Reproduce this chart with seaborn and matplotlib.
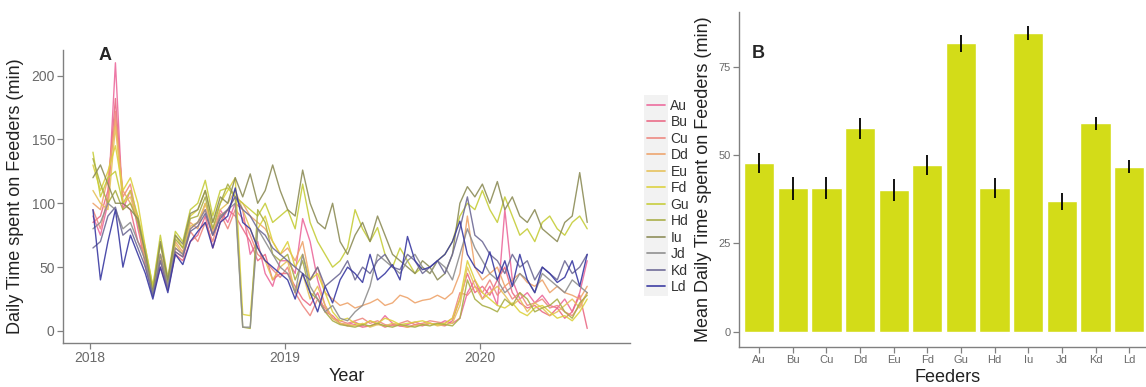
import numpy as np
import pandas as pd
import matplotlib
matplotlib.use("Agg")
import matplotlib.pyplot as plt
from matplotlib.patches import Rectangle
from matplotlib.lines import Line2D
import seaborn as sns

# ---------------- data ----------------
feeders = ["Au", "Bu", "Cu", "Dd", "Eu", "Fd", "Gu", "Hd", "Iu", "Jd", "Kd", "Ld"]
start_date = "2018-01-07"   # samples every 14 days

Au = [90, 75, 100, 210, 95, 110, 80, 55, 30, 60, 35, 65, 60, 80, 85, 95, 75, 95, 85, 100, 95, 60, 70, 45, 35, 55,
      55, 45, 88, 70, 40, 20, 10, 6, 5, 7, 4, 8, 5, 12, 6, 4, 5, 7, 5, 6, 5, 8, 6, 10, 30, 40,
      25, 35, 20, 95, 40, 25, 30, 22, 28, 20, 18, 25, 15, 30, 55]
Bu = [85, 90, 110, 182, 100, 95, 70, 60, 28, 50, 32, 60, 55, 70, 75, 90, 65, 85, 95, 90, 80, 70, 55, 60, 40, 45,
      45, 35, 25, 20, 30, 15, 12, 6, 4, 5, 3, 4, 6, 3, 5, 4, 3, 5, 4, 6, 5, 4, 8, 25, 45, 30,
      35, 28, 40, 50, 30, 22, 18, 20, 15, 12, 18, 10, 15, 28, 2]
Cu = [95, 80, 105, 172, 105, 115, 85, 50, 30, 55, 35, 62, 58, 78, 70, 85, 70, 92, 80, 95, 88, 75, 60, 55, 48, 42,
      50, 30, 20, 12, 25, 18, 10, 8, 6, 8, 10, 6, 8, 5, 4, 6, 8, 5, 6, 8, 7, 6, 10, 30, 28, 35,
      30, 40, 28, 35, 25, 30, 20, 22, 25, 18, 20, 15, 12, 20, 30]
Dd = [100, 95, 120, 165, 110, 100, 90, 55, 35, 60, 40, 70, 62, 85, 80, 100, 78, 90, 95, 105, 100, 90, 85, 80, 70, 60,
      65, 55, 70, 40, 50, 30, 25, 20, 22, 18, 20, 22, 25, 20, 22, 28, 26, 22, 24, 25, 28, 25, 30, 45, 90, 50,
      40, 45, 50, 35, 40, 45, 38, 35, 40, 30, 35, 30, 28, 25, 35]
Eu = [110, 100, 95, 160, 100, 105, 85, 60, 32, 58, 38, 68, 60, 82, 85, 100, 80, 95, 100, 110, 95, 80, 65, 55, 40, 50,
      55, 30, 45, 25, 35, 20, 10, 6, 5, 4, 6, 3, 5, 4, 6, 5, 3, 4, 5, 6, 4, 5, 6, 20, 50, 35,
      25, 30, 35, 28, 20, 25, 15, 22, 18, 12, 15, 20, 25, 18, 30]
Fd = [130, 110, 125, 145, 110, 120, 100, 65, 35, 70, 40, 75, 65, 90, 95, 110, 85, 100, 110, 120, 13, 12, 80, 90, 70, 60,
      70, 50, 60, 40, 45, 30, 15, 8, 10, 6, 5, 8, 6, 10, 8, 5, 6, 7, 8, 6, 5, 6, 10, 25, 55, 40,
      30, 25, 20, 18, 22, 15, 12, 18, 20, 15, 10, 12, 8, 15, 25]
Gu = [140, 105, 120, 125, 100, 110, 90, 65, 35, 75, 42, 78, 70, 95, 100, 118, 90, 110, 112, 105, 100, 95, 90, 100, 85, 90,
      95, 80, 115, 85, 70, 60, 50, 55, 65, 95, 80, 70, 81, 60, 50, 65, 55, 45, 50, 45, 55, 60, 70, 90, 100, 95,
      110, 95, 85, 105, 90, 75, 80, 70, 85, 90, 80, 75, 85, 90, 80]
Hd = [135, 115, 100, 110, 95, 100, 85, 62, 30, 68, 38, 72, 65, 88, 90, 105, 80, 100, 115, 105, 3, 2, 95, 85, 60, 55,
      60, 40, 55, 30, 25, 15, 8, 5, 4, 3, 5, 4, 6, 4, 3, 5, 4, 3, 5, 4, 6, 5, 4, 10, 40, 25,
      20, 18, 15, 25, 20, 30, 25, 15, 18, 20, 25, 15, 10, 22, 28]
Iu = [120, 130, 115, 100, 100, 95, 88, 60, 30, 70, 40, 75, 68, 92, 95, 110, 85, 105, 100, 120, 105, 123, 100, 110, 130, 110,
      95, 90, 126, 100, 85, 80, 100, 70, 60, 75, 85, 70, 90, 75, 60, 55, 50, 45, 55, 50, 40, 45, 60, 100, 113, 105,
      115, 100, 117, 95, 105, 90, 85, 95, 80, 75, 70, 85, 90, 124, 85]
Jd = [80, 85, 100, 95, 80, 85, 70, 55, 28, 60, 35, 65, 60, 80, 85, 95, 75, 90, 95, 100, 3, 3, 80, 70, 60, 50,
      45, 30, 60, 35, 25, 15, 20, 10, 8, 15, 20, 35, 60, 55, 50, 45, 55, 60, 50, 45, 55, 50, 40, 60, 80, 65,
      55, 45, 40, 30, 35, 45, 40, 30, 45, 40, 35, 30, 40, 35, 30]
Kd = [65, 70, 90, 97, 75, 80, 65, 50, 27, 55, 32, 62, 58, 78, 82, 92, 75, 88, 95, 105, 95, 90, 80, 75, 65, 60,
      55, 50, 45, 40, 50, 35, 40, 45, 55, 40, 50, 45, 55, 60, 50, 48, 60, 55, 45, 50, 55, 45, 60, 80, 105, 75,
      70, 60, 55, 45, 60, 50, 55, 40, 50, 45, 40, 55, 45, 50, 60]
Ld = [95, 40, 70, 95, 50, 75, 60, 45, 25, 50, 30, 60, 52, 70, 78, 85, 65, 85, 90, 112, 85, 80, 65, 55, 50, 45,
      40, 25, 45, 30, 15, 35, 22, 40, 50, 45, 38, 60, 40, 45, 52, 40, 74, 55, 48, 50, 55, 60, 70, 86, 60, 50,
      45, 62, 40, 55, 35, 60, 40, 30, 50, 45, 38, 42, 55, 35, 60]

mean_minutes = [47.8, 40.6, 40.8, 57.6, 40.1, 47.2, 81.6, 40.8, 84.5, 37.0, 59.0, 46.7]
se_minutes = [2.9, 3.3, 3.1, 2.9, 3.1, 2.9, 2.5, 2.8, 2.0, 2.4, 1.9, 1.9]

year_ticks = ["2018-01-01", "2019-01-01", "2020-01-01"]
year_labels = ["2018", "2019", "2020"]

series = dict(zip(feeders, [Au, Bu, Cu, Dd, Eu, Fd, Gu, Hd, Iu, Jd, Kd, Ld]))
frames = []
for name, vals in series.items():
    dates = pd.date_range(start_date, periods=len(vals), freq="14D")
    frames.append(pd.DataFrame({"date": dates, "minutes": vals, "feeder": name}))
df = pd.concat(frames, ignore_index=True)

line_colors = ["#ec6a9c", "#ea6a86", "#ee8880", "#eea46c", "#e6c25a", "#dcd23e",
               "#c6cd3a", "#a9ae46", "#8d8d58", "#8e8e8e", "#6e6a96", "#3a3aa2"]
bar_color = "#d3dc18"

# ---------------- style ----------------
sns.set_theme(style="white")
plt.rcParams["font.family"] = ["Liberation Sans", "DejaVu Sans"]

W, H = 1146, 387
fig = plt.figure(figsize=(W / 100, H / 100), dpi=100)
axA = fig.add_axes([63 / W, 1 - 343 / H, 567 / W, 293 / H])
axB = fig.add_axes([739 / W, 1 - 347 / H, 407 / W, 335 / H])

axis_grey = "#808080"
tick_grey = "#6a6a6a"

# ---------------- panel A ----------------
sns.lineplot(data=df, x="date", y="minutes", hue="feeder", hue_order=feeders,
             palette=line_colors, ax=axA, linewidth=1.0, alpha=0.9, legend=False)
axA.set_ylim(-9.4, 220)
axA.set_xlim(pd.Timestamp("2017-11-12"), pd.Timestamp("2020-10-07"))
axA.set_yticks([0, 50, 100, 150, 200])
axA.set_xticks([pd.Timestamp(t) for t in year_ticks])
axA.set_xticklabels(year_labels)
axA.set_xlabel("Year", fontsize=13, color="#222222")
axA.set_ylabel("Daily Time spent on Feeders (min)", fontsize=13, color="#222222")
axA.yaxis.set_label_coords(-0.068, 0.5)
axA.xaxis.set_label_coords(0.5, -0.087)

fig.patches.append(Rectangle((644 / W, 1 - 296 / H), 24 / W, 201 / H,
                             transform=fig.transFigure, facecolor="#f2f2f2",
                             edgecolor="none", zorder=0))
handles = [Line2D([], [], color=c, linewidth=1.3, alpha=0.9) for c in line_colors]
leg = fig.legend(handles, feeders, loc="upper left", bbox_to_anchor=(644 / W, 1 - 96 / H),
                 bbox_transform=fig.transFigure, frameon=False, fontsize=10,
                 handlelength=1.3, handletextpad=0.4, labelspacing=0.18, borderpad=0.2,
                 borderaxespad=0)
for t in leg.get_texts():
    t.set_color("#333333")

# ---------------- panel B ----------------
bdf = pd.DataFrame({"feeder": feeders, "mean": mean_minutes, "se": se_minutes})
sns.barplot(data=bdf, x="feeder", y="mean", color=bar_color, saturation=1,
            width=0.9, errorbar=None, ax=axB)
axB.errorbar(x=np.arange(len(feeders)), y=bdf["mean"], yerr=bdf["se"], fmt="none",
             ecolor="black", elinewidth=1.3, capsize=0)
axB.set_ylim(-4.3, 90.5)
axB.set_xlim(-0.6, 11.5)
axB.set_yticks([0, 25, 50, 75])
axB.set_xlabel("Feeders", fontsize=13, color="#222222")
axB.set_ylabel("Mean Daily Time spent on Feeders (min)", fontsize=13, color="#222222")
axB.yaxis.set_label_coords(-0.066, 0.5)
axB.xaxis.set_label_coords(0.513, -0.066)

for ax, fs in ((axA, 10), (axB, 8)):
    for s in ("top", "right"):
        ax.spines[s].set_visible(False)
    for s in ("left", "bottom"):
        ax.spines[s].set_color(axis_grey)
        ax.spines[s].set_linewidth(1.0)
    ax.tick_params(axis="both", which="both", length=4, width=0.9, color=axis_grey,
                   labelcolor=tick_grey, labelsize=fs, bottom=True, left=True, pad=2)

fig.text(105 / W, 1 - 55 / H, "A", fontsize=13, fontweight="bold", ha="center", va="center")
fig.text(758 / W, 1 - 53 / H, "B", fontsize=13, fontweight="bold", ha="center", va="center")

fig.savefig("out.png", dpi=100)
